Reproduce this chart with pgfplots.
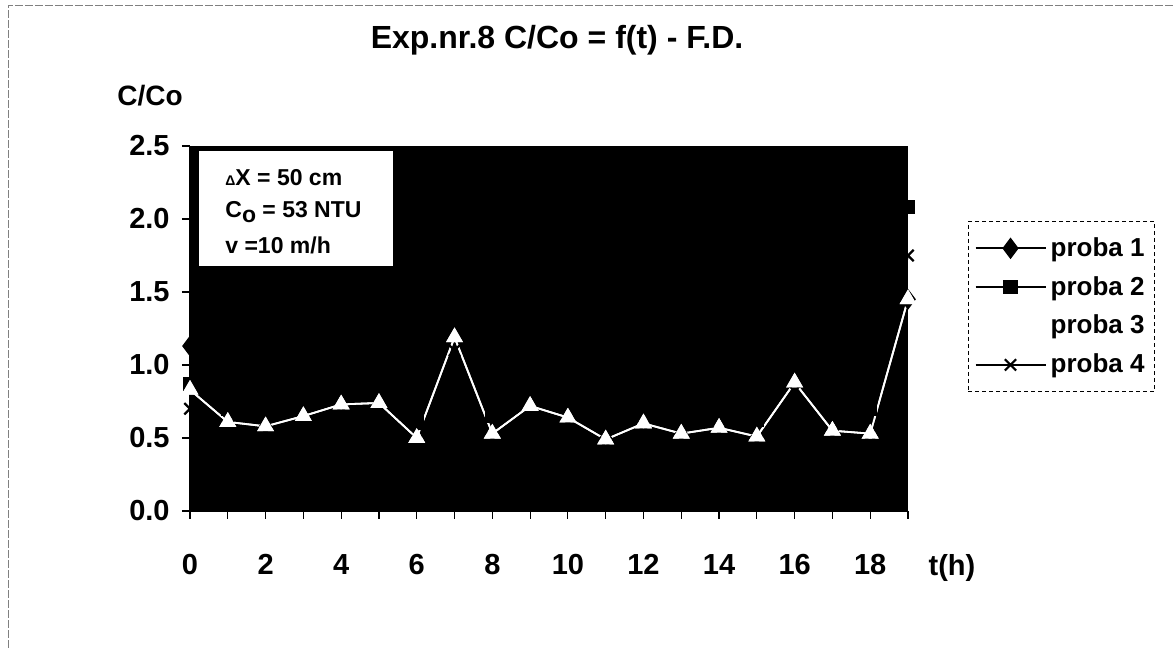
\documentclass[border=0pt]{standalone}
\usepackage{pgfplots}
\pgfplotsset{compat=1.18}
\usepackage{pgfplotstable}
\usepackage{fontspec}
\setmainfont{Liberation Sans}

\pgfplotstableread{
t c
0 1.13
1 0.95
2 0.85
3 0.90
4 1.00
5 1.05
6 0.90
7 1.30
8 0.90
9 1.00
10 0.95
11 0.85
12 0.90
13 0.85
14 0.90
15 0.85
16 1.10
17 0.90
18 0.95
19 1.45
}\probaA
\pgfplotstableread{
t c
0 0.87
1 0.70
2 0.68
3 0.72
4 0.80
5 0.82
6 0.60
7 1.25
8 0.65
9 0.80
10 0.75
11 0.62
12 0.70
13 0.65
14 0.68
15 0.62
16 0.95
17 0.68
18 0.70
19 2.08
}\probaB
\pgfplotstableread{
t c
0 0.83
1 0.61
2 0.58
3 0.65
4 0.73
5 0.74
6 0.50
7 1.19
8 0.53
9 0.72
10 0.64
11 0.49
12 0.60
13 0.53
14 0.57
15 0.51
16 0.88
17 0.55
18 0.53
19 1.45
}\probaC
\pgfplotstableread{
t c
0 0.70
1 0.58
2 0.55
3 0.60
4 0.68
5 0.70
6 0.48
7 1.10
8 0.50
9 0.68
10 0.60
11 0.47
12 0.58
13 0.50
14 0.54
15 0.48
16 0.82
17 0.52
18 0.52
19 1.75
}\probaD

\begin{document}
\begin{tikzpicture}
\useasboundingbox (0,0) rectangle (587pt,324pt);
\fill[white] (0,0) rectangle (587pt,324pt);
\draw[gray, line width=0.4pt, dash pattern=on 4pt off 1pt] (4pt,0) -- (4pt,321.5pt) -- (587pt,321.5pt);
\begin{axis}[
  at={(95pt,68.5pt)}, anchor=south west,
  width=359pt, height=182.5pt, scale only axis,
  xmin=0, xmax=19, ymin=0, ymax=2.5,
  clip=false,
  axis background/.style={fill=black},
  axis lines*=left,
  axis line style={black, line width=0.6pt, -},
  tick align=outside,
  major tick length=4pt, minor tick length=4pt,
  tick style={black, line width=0.6pt},
  xtick={0,2,...,18}, minor xtick={1,3,...,19},
  ytick={0,0.5,...,2.5},
  /pgf/number format/assume math mode=true,
  yticklabel style={/pgf/number format/.cd, fixed, fixed zerofill, precision=1, /tikz/.cd, anchor=east, inner sep=0pt, xshift=-6pt},
  xticklabel style={anchor=base, inner sep=0pt, yshift=-28pt},
  ticklabel style={font=\fontsize{14.5}{16}\selectfont\bfseries},
  legend style={at={(1.0836,0.7945)}, anchor=north west, draw=black, line width=0.4pt,
    dash pattern=on 2pt off 1.5pt, fill=white,
    font=\fontsize{13}{15}\selectfont\bfseries, row sep=4.5pt,
    inner xsep=3pt, inner ysep=6pt,
    cells={anchor=west}},
  legend image code/.code={\draw[solid, line width=1.1pt, mark repeat=2, mark phase=2] plot coordinates {(0pt,0pt) (17.5pt,0pt) (35pt,0pt)};},
]
\addplot[solid, black, line width=0.9pt, mark=diamond*, mark size=4.5pt, mark options={solid, fill=black}] table[x=t, y=c] {\probaA};
\addlegendentry{proba 1}
\addplot[solid, black, line width=0.9pt, mark=square*, mark size=3pt, mark options={solid, fill=black}] table[x=t, y=c] {\probaB};
\addlegendentry{proba 2}
\addplot[solid, white, line width=0.9pt, mark=triangle*, mark size=4pt, mark options={solid, fill=white}] table[x=t, y=c] {\probaC};
\addlegendentry{proba 3}
\addplot[solid, black, line width=0.9pt, mark=x, mark size=4pt, mark options={solid, line width=1.1pt}] table[x=t, y=c] {\probaD};
\addlegendentry{proba 4}
\addplot[forget plot, solid, white, line width=0.9pt, mark=triangle*, mark size=4pt, mark options={solid, fill=white}] table[x=t, y=c] {\probaC};
\end{axis}
\node[font=\fontsize{16}{18}\selectfont\bfseries] at (278.5pt,304pt) {Exp.nr.8 C/Co = f(t) - F.D.};
\node[font=\fontsize{14}{16}\selectfont\bfseries] at (75pt,276pt) {C/Co};
\node[anchor=base, inner sep=0pt, font=\fontsize{14.5}{16}\selectfont\bfseries] at (476pt,36pt) {t(h)};
\fill[white] (99.5pt,191pt) rectangle (196.5pt,248.5pt);
\begin{scope}[every node/.style={anchor=west, inner sep=0pt, font=\fontsize{11.5}{13}\selectfont\bfseries}]
\node at (112.5pt,235pt) {{\fontsize{7}{8}\selectfont Δ}X = 50 cm};
\node at (112.5pt,218pt) {C\raisebox{-0.35ex}{o} = 53 NTU};
\node at (112.5pt,201.5pt) {v =10 m/h};
\end{scope}
\end{tikzpicture}
\end{document}
